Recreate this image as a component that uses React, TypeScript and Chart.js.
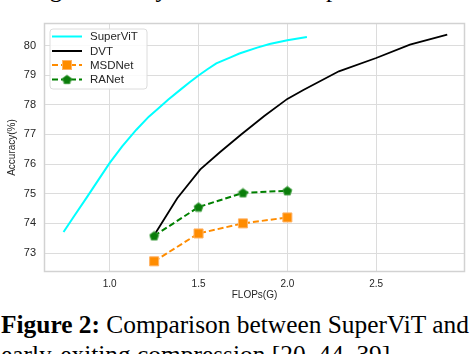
import { useEffect, useRef } from "react";
import { Chart, registerables } from "chart.js";

Chart.register(...registerables);

const seriesNames = ["SuperViT", "DVT", "MSDNet", "RANet"];

const superVitX = [0.74, 0.8, 0.87, 0.94, 1.0, 1.07, 1.15, 1.22, 1.27, 1.33, 1.4, 1.45, 1.5, 1.55, 1.6, 1.68, 1.73, 1.83, 1.9, 2.0, 2.11];
const superVitY = [73.71, 74.25, 74.87, 75.5, 76.04, 76.6, 77.16, 77.6, 77.86, 78.18, 78.52, 78.76, 78.99, 79.2, 79.4, 79.6, 79.73, 79.93, 80.05, 80.18, 80.29];

const dvtX = [1.25, 1.38, 1.51, 1.62, 1.74, 1.87, 2.0, 2.09, 2.29, 2.5, 2.69, 2.9];
const dvtY = [73.6, 74.85, 75.82, 76.4, 77.0, 77.62, 78.2, 78.5, 79.13, 79.58, 80.03, 80.37];

const msdX = [1.25, 1.5, 1.75, 2.0];
const msdY = [72.72, 73.66, 74.0, 74.2];

const raX = [1.25, 1.5, 1.75, 2.0];
const raY = [73.58, 74.55, 75.03, 75.1];

const xTicks = [1.0, 1.5, 2.0, 2.5];
const yTicks = [73, 74, 75, 76, 77, 78, 79, 80];

const xTitle = "FLOPs(G)";
const yTitle = "Accuracy(%)";

const COLORS = ["#00ffff", "#000000", "#ff8c00", "#008000"];
const FONT = "'Liberation Sans', Arial, sans-serif";

function pts(xs: number[], ys: number[]) {
  return xs.map((x, i) => ({ x, y: ys[i] }));
}

function makePentagon(size: number, fill: string, stroke: string) {
  const c = document.createElement("canvas");
  c.width = size;
  c.height = size;
  const ctx = c.getContext("2d")!;
  const cx = size / 2;
  const cy = size / 2 + 0.4;
  const r = size / 2 - 0.8;
  ctx.beginPath();
  for (let i = 0; i < 5; i++) {
    const a = -Math.PI / 2 + (i * 2 * Math.PI) / 5;
    const px = cx + r * Math.cos(a);
    const py = cy + r * Math.sin(a);
    if (i === 0) ctx.moveTo(px, py);
    else ctx.lineTo(px, py);
  }
  ctx.closePath();
  ctx.fillStyle = fill;
  ctx.fill();
  ctx.lineWidth = 1;
  ctx.strokeStyle = stroke;
  ctx.stroke();
  return c;
}

export default function App() {
  const ref = useRef<HTMLCanvasElement | null>(null);

  useEffect(() => {
    if (!ref.current) return;
    const pentagon = makePentagon(11, "#0a7d0a", "#3a9a3a");

    const framePlugin = {
      id: "frame",
      beforeDatasetsDraw(chart: any) {
        const { ctx, chartArea } = chart;
        ctx.save();
        ctx.strokeStyle = "#d2d2d2";
        ctx.lineWidth = 1.5;
        ctx.strokeRect(
          Math.round(chartArea.left) + 0.5,
          Math.round(chartArea.top) + 0.5,
          Math.round(chartArea.right - chartArea.left) - 1,
          Math.round(chartArea.bottom - chartArea.top) - 1
        );
        ctx.restore();
      },
    };

    const legendPlugin = {
      id: "innerLegend",
      afterDraw(chart: any) {
        const { ctx, chartArea } = chart;
        const x0 = chartArea.left + 6;
        const y0 = chartArea.top + 6;
        const w = 97;
        const h = 60;
        ctx.save();
        ctx.beginPath();
        const r = 3;
        ctx.moveTo(x0 + r, y0);
        ctx.lineTo(x0 + w - r, y0);
        ctx.quadraticCurveTo(x0 + w, y0, x0 + w, y0 + r);
        ctx.lineTo(x0 + w, y0 + h - r);
        ctx.quadraticCurveTo(x0 + w, y0 + h, x0 + w - r, y0 + h);
        ctx.lineTo(x0 + r, y0 + h);
        ctx.quadraticCurveTo(x0, y0 + h, x0, y0 + h - r);
        ctx.lineTo(x0, y0 + r);
        ctx.quadraticCurveTo(x0, y0, x0 + r, y0);
        ctx.closePath();
        ctx.fillStyle = "rgba(255,255,255,0.85)";
        ctx.fill();
        ctx.strokeStyle = "#dcdcdc";
        ctx.lineWidth = 1;
        ctx.stroke();

        const rowY = [7.5, 22, 36, 50.5];
        const lx0 = x0 + 2;
        const lx1 = x0 + 32;
        const mx = (lx0 + lx1) / 2;
        seriesNames.forEach((name, i) => {
          const y = y0 + rowY[i];
          ctx.save();
          ctx.strokeStyle = COLORS[i];
          ctx.lineWidth = 2;
          if (i >= 2) ctx.setLineDash([6, 3]);
          ctx.beginPath();
          ctx.moveTo(lx0, y);
          ctx.lineTo(lx1, y);
          ctx.stroke();
          ctx.restore();
          if (i === 2) {
            ctx.fillStyle = "#ff8c00";
            ctx.strokeStyle = "#ffb366";
            ctx.lineWidth = 1;
            ctx.fillRect(mx - 4.5, y - 4.5, 9, 9);
            ctx.strokeRect(mx - 4.5, y - 4.5, 9, 9);
          } else if (i === 3) {
            ctx.drawImage(pentagon, mx - 5.5, y - 5.5);
          }
          ctx.fillStyle = "#262626";
          ctx.font = `11.5px ${FONT}`;
          ctx.textBaseline = "middle";
          ctx.textAlign = "left";
          ctx.fillText(name, x0 + 40, y + 0.5);
        });
        ctx.restore();
      },
    };

    const chart = new Chart(ref.current, {
      type: "scatter",
      data: {
        datasets: [
          {
            label: seriesNames[3],
            data: pts(raX, raY),
            showLine: true,
            borderColor: COLORS[3],
            borderWidth: 2,
            borderDash: [6, 3],
            pointStyle: pentagon as any,
            pointRadius: 5,
            backgroundColor: COLORS[3],
          },
          {
            label: seriesNames[2],
            data: pts(msdX, msdY),
            showLine: true,
            borderColor: COLORS[2],
            borderWidth: 2,
            borderDash: [6, 3],
            pointStyle: "rect",
            pointRadius: 6.4,
            pointBackgroundColor: "#ff8c00",
            pointBorderColor: "#ffb366",
            pointBorderWidth: 1,
            backgroundColor: COLORS[2],
          },
          {
            label: seriesNames[1],
            data: pts(dvtX, dvtY),
            showLine: true,
            borderColor: COLORS[1],
            borderWidth: 1.8,
            pointRadius: 0,
          },
          {
            label: seriesNames[0],
            data: pts(superVitX, superVitY),
            showLine: true,
            borderColor: COLORS[0],
            borderWidth: 2,
            pointRadius: 0,
          },
        ],
      },
      options: {
        responsive: false,
        animation: false,
        devicePixelRatio: 1,
        layout: { padding: { top: 23, right: 9, left: 0, bottom: 0 } },
        plugins: {
          legend: { display: false },
          tooltip: { enabled: false },
        },
        scales: {
          x: {
            type: "linear",
            min: 0.63,
            max: 3.0,
            afterBuildTicks: (scale: any) => {
              scale.ticks = xTicks.map((v) => ({ value: v }));
            },
            afterFit: (scale: any) => {
              scale.height = 30;
            },
            grid: { color: "#dcdcdc", lineWidth: 1, drawTicks: false },
            border: { display: false },
            ticks: {
              padding: 6,
              color: "#262626",
              font: { family: FONT, size: 10 },
              callback: (v: any) => Number(v).toFixed(1),
              maxRotation: 0,
              autoSkip: false,
            },
            title: {
              display: true,
              text: xTitle,
              color: "#262626",
              font: { family: FONT, size: 10 },
              padding: { top: 0, bottom: 1 },
            },
          },
          y: {
            type: "linear",
            min: 72.36,
            max: 80.76,
            afterBuildTicks: (scale: any) => {
              scale.ticks = yTicks.map((v) => ({ value: v }));
            },
            afterFit: (scale: any) => {
              scale.width = 44;
            },
            grid: { color: "#dcdcdc", lineWidth: 1, drawTicks: false },
            border: { display: false },
            ticks: {
              padding: 8,
              color: "#262626",
              font: { family: FONT, size: 11 },
              callback: (v: any) => String(Math.round(Number(v))),
              autoSkip: false,
            },
            title: {
              display: true,
              text: yTitle,
              color: "#262626",
              font: { family: FONT, size: 10 },
              padding: { top: 6, bottom: 0 },
            },
          },
        },
      },
      plugins: [framePlugin, legendPlugin],
    });

    return () => chart.destroy();
  }, []);

  const serif = "'Liberation Serif', 'Times New Roman', serif";

  return (
    <div
      style={{
        position: "fixed",
        left: 0,
        top: 0,
        width: 474,
        height: 354,
        overflow: "hidden",
        background: "#ffffff",
      }}
    >
      <div
        style={{
          position: "absolute",
          top: -26,
          left: 0,
          width: 474,
          height: 30,
          fontFamily: serif,
          fontSize: 25,
          lineHeight: "30px",
          whiteSpace: "nowrap",
          color: "#000",
        }}
      >
        <span style={{ position: "absolute", left: 8 }}>using</span>
        <span style={{ position: "absolute", left: 143 }}>dynamic</span>
        <span style={{ position: "absolute", left: 283 }}>compression</span>
      </div>
      <canvas
        ref={ref}
        width={474}
        height={302}
        style={{ position: "absolute", left: 0, top: 0, width: 474, height: 302 }}
      />
      <div
        style={{
          position: "absolute",
          top: 309.3,
          left: 1,
          width: 700,
          fontFamily: serif,
          fontSize: 25.4,
          lineHeight: "30px",
          whiteSpace: "nowrap",
          color: "#000",
        }}
      >
        <b>Figure 2:</b> Comparison between SuperViT and
        <br />
        early-exiting compression [20, 44, 39]
      </div>
    </div>
  );
}
